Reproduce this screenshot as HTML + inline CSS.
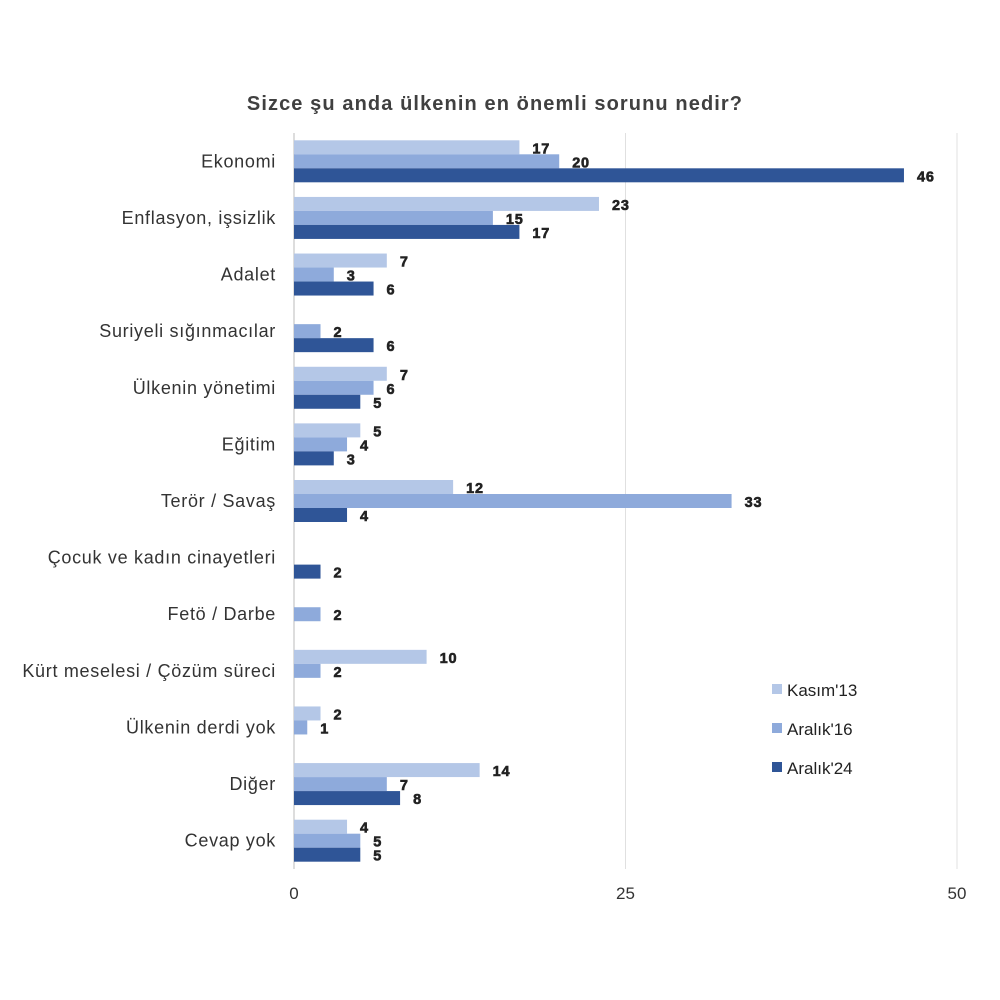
<!DOCTYPE html>
<html><head><meta charset="utf-8"><style>
html,body{margin:0;padding:0;background:#fff;width:1000px;height:1000px;overflow:hidden}
svg text{font-family:"Liberation Sans",sans-serif}
</style></head><body>
<svg id="chart" width="1000" height="1000" xmlns="http://www.w3.org/2000/svg">
<text x="495" y="110" text-anchor="middle" font-size="20" font-weight="bold" letter-spacing="1.1" fill="#404040">Sizce şu anda ülkenin en önemli sorunu nedir?</text>
<g id="grid"></g><g id="bars"></g><g id="labels"></g><g id="ticks"></g>
<g>
<rect x="772" y="684" width="10" height="10" fill="#b4c7e7"/><text x="787" y="696" font-size="17" fill="#222">Kasım'13</text>
<rect x="772" y="723" width="10" height="10" fill="#8eaadb"/><text x="787" y="735" font-size="17" fill="#222">Aralık'16</text>
<rect x="772" y="762" width="10" height="10" fill="#2f5597"/><text x="787" y="774" font-size="17" fill="#222">Aralık'24</text>
</g>
</svg>
<script>
const categories=["Ekonomi","Enflasyon, işsizlik","Adalet","Suriyeli sığınmacılar","Ülkenin yönetimi","Eğitim","Terör / Savaş","Çocuk ve kadın cinayetleri","Fetö / Darbe","Kürt meselesi / Çözüm süreci","Ülkenin derdi yok","Diğer","Cevap yok"];
const kasim13=[17,23,7,null,7,5,12,null,null,10,2,14,4];
const aralik16=[20,15,3,2,6,4,33,null,2,2,1,7,5];
const aralik24=[46,17,6,6,5,3,4,2,null,null,null,8,5];
const ticks=[0,25,50];
const series=[kasim13,aralik16,aralik24];
const colors=["#b4c7e7","#8eaadb","#2f5597"];
const NS="http://www.w3.org/2000/svg";
const x0=294,x1=957,yTop=133,yBot=869,maxV=50;
function xs(v){return x0+(x1-x0)*v/maxV;}
const band=(yBot-yTop)/categories.length;
function yc(i){return yTop+band*(i+0.5);}
function mk(t,a,p){const e=document.createElementNS(NS,t);for(const k in a)e.setAttribute(k,a[k]);document.getElementById(p).appendChild(e);return e;}
ticks.forEach(t=>{
 const l=mk("line",{x1:xs(t),x2:xs(t),y1:yTop,y2:yBot,stroke:t===0?"#bbb":"#e0e0e0","stroke-width":1},"grid");
 
 
 const tx=mk("text",{x:xs(t),y:yBot+30,"text-anchor":"middle","font-size":17,fill:"#333"},"ticks");
 tx.textContent=t;
 
 
});
categories.forEach((c,i)=>{
 const tx=mk("text",{x:276,y:yc(i)+6,"text-anchor":"end","font-size":18,"letter-spacing":0.7,fill:"#333"},"ticks");
 tx.textContent=c;
 
 
 series.forEach((s,j)=>{
  const v=s[i]; if(v==null) return;
  const y=yc(i)-21+j*14;
  const r=mk("rect",{x:x0,y:y,width:xs(v)-x0,height:14,fill:colors[j]},"bars");
  
  
  const lb=mk("text",{x:xs(v)+13,y:y+13,"font-size":14.5,"font-weight":"bold","letter-spacing":0.8,stroke:"#222","stroke-width":0.6,"font-family":"DejaVu Sans, sans-serif",fill:"#222"},"labels");
  lb.textContent=v;
  
  
 });
});
</script>
</body></html>
